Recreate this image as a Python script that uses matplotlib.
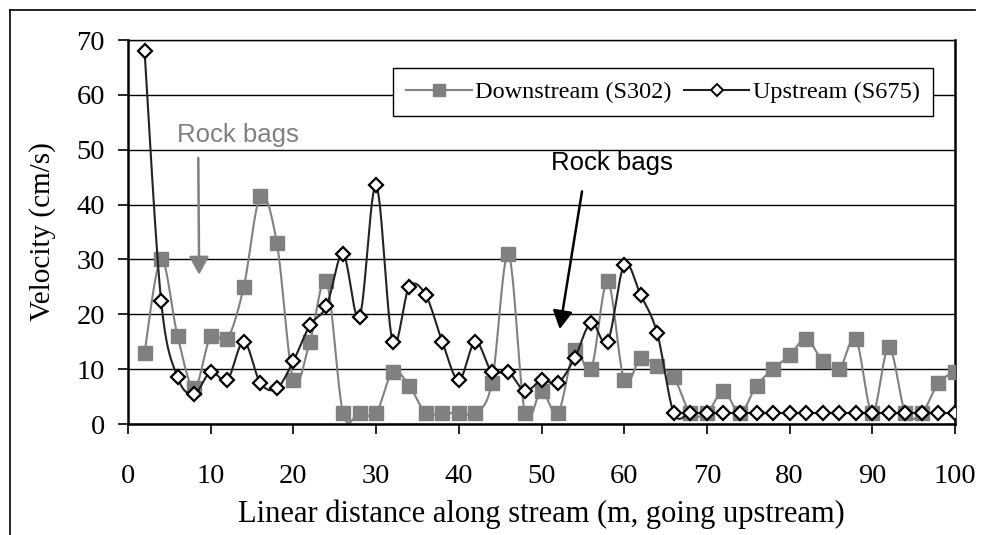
import numpy as np
import matplotlib
matplotlib.use("Agg")
import matplotlib.pyplot as plt
from matplotlib.lines import Line2D

# distance along stream (m)
distance = list(range(2, 101, 2))

downstream_s302 = [13, 30, 16, 6.5, 16, 15.5, 25, 41.5, 33, 8,
                   15, 26, 2, 2, 2, 9.5, 7, 2, 2, 2,
                   2, 7.5, 31, 2, 6, 2, 13.5, 10, 26, 8,
                   12, 10.5, 8.5, 2, 2, 6, 2, 7, 10, 12.5,
                   15.5, 11.5, 10, 15.5, 2, 14, 2, 2, 7.5, 9.5]

upstream_s675 = [68, 22.5, 8.5, 5.5, 9.5, 8, 15, 7.5, 6.5, 11.5,
                 18, 21.5, 31, 19.5, 43.5, 15, 25, 23.5, 15, 8,
                 15, 9.5, 9.5, 6, 8, 7.5, 12, 18.5, 15, 29,
                 23.5, 16.5, 2, 2, 2, 2, 2, 2, 2, 2,
                 2, 2, 2, 2, 2, 2, 2, 2, 2, 2]

yticks = [0, 10, 20, 30, 40, 50, 60, 70]
xticks = [0, 10, 20, 30, 40, 50, 60, 70, 80, 90, 100]

SERIF = "Liberation Serif"
SANS = "Liberation Sans"


def smooth(x, y, n=12):
    # Catmull-Rom style curve through the points, like a spreadsheet "smoothed line"
    x = np.asarray(x, float)
    y = np.asarray(y, float)
    px = np.concatenate([[x[0]], x, [x[-1]]])
    py = np.concatenate([[y[0]], y, [y[-1]]])
    xs, ys = [], []
    t = np.linspace(0, 1, n, endpoint=False)
    for i in range(1, len(px) - 2):
        p0, p1, p2, p3 = px[i - 1], px[i], px[i + 1], px[i + 2]
        q0, q1, q2, q3 = py[i - 1], py[i], py[i + 1], py[i + 2]
        c1x, c1y = p1 + (p2 - p0) / 6, q1 + (q2 - q0) / 6
        c2x, c2y = p2 - (p3 - p1) / 6, q2 - (q3 - q1) / 6
        b = [(1 - t) ** 3, 3 * (1 - t) ** 2 * t, 3 * (1 - t) * t ** 2, t ** 3]
        xs.append(b[0] * p1 + b[1] * c1x + b[2] * c2x + b[3] * p2)
        ys.append(b[0] * q1 + b[1] * c1y + b[2] * c2y + b[3] * q2)
    xs.append([x[-1]])
    ys.append([y[-1]])
    return np.concatenate(xs), np.concatenate(ys)


fig = plt.figure(figsize=(9.82, 5.35), dpi=100)
ax = fig.add_axes([128 / 982, 111 / 535, 827 / 982, 384 / 535])

ax.set_xlim(0, 100)
ax.set_ylim(0, 70)
ax.set_yticks(yticks)
ax.set_xticks(xticks)
ax.yaxis.grid(True, color="black", linewidth=1.0)
ax.set_axisbelow(True)

gray = "#808080"
sx, sy = smooth(distance, downstream_s302)
ax.plot(sx, sy, color=gray, linewidth=1.5, zorder=2)
ax.plot(distance, downstream_s302, linestyle="none", marker="s", markersize=9.5,
        color=gray, markeredgecolor=gray, zorder=3)

ux, uy = smooth(distance, upstream_s675)
ax.plot(ux, uy, color="#222222", linewidth=1.5, zorder=4)
ax.plot(distance, upstream_s675, linestyle="none", marker="D", markersize=7,
        markerfacecolor="white", markeredgecolor="black", markeredgewidth=1.6, zorder=5)

for side in ["left", "bottom", "right", "top"]:
    ax.spines[side].set_color("black")
ax.spines["left"].set_linewidth(1.8)
ax.spines["bottom"].set_linewidth(1.8)
ax.spines["right"].set_linewidth(1.8)
ax.spines["top"].set_linewidth(1.0)

ax.tick_params(axis="both", direction="out", length=7.5, width=1.2, colors="black",
               labelsize=20.5)
ax.tick_params(axis="x", pad=21)
ax.tick_params(axis="y", pad=9)
for lab in ax.get_xticklabels() + ax.get_yticklabels():
    lab.set_fontfamily(SERIF)

ax.set_xlabel("Linear distance along stream (m, going upstream)", fontsize=22,
              fontfamily=SERIF, labelpad=8)
ax.set_ylabel("Velocity (cm/s)", fontsize=21, fontfamily=SERIF, labelpad=15)

handles = [
    Line2D([], [], color=gray, linewidth=1.5, marker="s", markersize=8.5, markeredgecolor=gray),
    Line2D([], [], color="#222222", linewidth=1.5, marker="D", markersize=6,
           markerfacecolor="white", markeredgecolor="black", markeredgewidth=1.4),
]
leg = ax.legend(handles, ["Downstream (S302)", "Upstream (S675)"], ncol=2,
                loc="upper right", bbox_to_anchor=(0.974, 0.928), frameon=True,
                fancybox=False, edgecolor="black", framealpha=1,
                prop={"family": SERIF, "size": 17.5}, handlelength=2.7,
                handletextpad=0.15, columnspacing=0.5, borderpad=0.55,
                borderaxespad=0)
leg.get_frame().set_linewidth(1.0)
leg.set_zorder(6)

# rock bag annotations
ax.text(13.3, 52.7, "Rock bags", color=gray, fontsize=18.5, fontfamily=SANS,
        ha="center", va="center")
ax.annotate("", xy=(8.6, 27.2), xytext=(8.5, 48.5),
            arrowprops=dict(arrowstyle="-|>,head_length=1.1,head_width=0.6",
                            color=gray, linewidth=1.8, shrinkA=0, shrinkB=0))
ax.text(58.5, 47.6, "Rock bags", color="black", fontsize=18.5, fontfamily=SANS,
        ha="center", va="center")
ax.annotate("", xy=(52.2, 17.3), xytext=(54.9, 42.4),
            arrowprops=dict(arrowstyle="-|>,head_length=1.1,head_width=0.6",
                            color="black", linewidth=1.8, shrinkA=0, shrinkB=0))

# outer chart frame
fig.add_artist(Line2D([10 / 982, 975 / 982], [1 - 10 / 535, 1 - 10 / 535],
                      transform=fig.transFigure, color="black", linewidth=1.2))
fig.add_artist(Line2D([10 / 982, 10 / 982], [1 - 10 / 535, 0],
                      transform=fig.transFigure, color="black", linewidth=1.2))

fig.savefig("out.png", dpi=100)
